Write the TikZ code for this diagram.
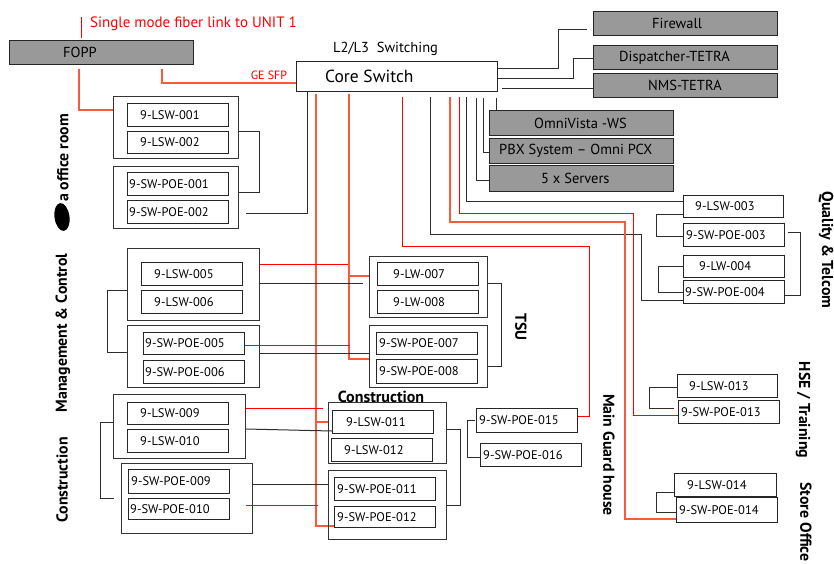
\documentclass[tikz,border=0pt]{standalone}
\usepackage{fontspec}
\setmainfont{PT Sans}
\usetikzlibrary{backgrounds}
\definecolor{boxgray}{RGB}{153,153,153}
\definecolor{sal}{RGB}{250,90,60}
\definecolor{lnk}{RGB}{45,45,45}
\tikzset{
 gbox/.style={draw=black!85, line width=1.2pt, fill=boxgray, inner sep=0pt},
 wbox/.style={draw=black!85, line width=1pt, fill=white, inner sep=0pt},
 grp/.style={draw=black!80, line width=1.1pt, inner sep=0pt},
 lbl/.style={inner sep=0pt, font=\fontsize{12.5}{14}\selectfont},
 glbl/.style={inner sep=0pt, font=\fontsize{14.5}{16}\selectfont},
 blk/.style={draw=lnk, line width=1pt},
 rd/.style={draw=red, line width=1pt},
 sl/.style={draw=sal, line width=1.1pt},
 rot/.style={inner sep=0pt, font=\fontsize{15.8}{18}\selectfont\bfseries},
}
\newcommand{\bx}[9]{%
 \node[#1, anchor=north west, minimum width={#5pt-#3pt}, minimum height={#6pt-#4pt}] (#2) at (#3,#4) {};
 \node[#9, anchor=west] (#2-t) at ([xshift=#7pt]#2.west) {#8};
}
\newcommand{\gp}[5]{%
 \node[grp, anchor=north west, minimum width={#4pt-#2pt}, minimum height={#5pt-#3pt}] (#1) at (#2,#3) {};
}
\begin{document}
\begin{tikzpicture}[x=1pt,y=-1pt]
\useasboundingbox (0,0) rectangle (834,563);

% gray / core boxes
\bx{gbox}{fopp}{9}{40}{193}{64}{54}{FOPP}{glbl}
\bx{gbox}{fw}{593}{11}{777}{35}{59}{Firewall}{glbl}
\bx{gbox}{disp}{593}{45}{777}{69}{26}{Dispatcher-TETRA}{glbl}
\bx{gbox}{nms}{593}{73}{777}{97}{55}{NMS-TETRA}{glbl}
\bx{gbox}{omni}{489}{110}{673}{135}{45}{OmniVista -WS}{glbl}
\bx{gbox}{pbx}{489}{138}{673}{163}{10}{PBX System – Omni PCX}{glbl}
\bx{gbox}{srv}{489}{165}{673}{191}{52}{5 x Servers}{glbl}
\bx{wbox}{core}{296}{61}{497}{91}{29}{Core Switch}{inner sep=0pt, font=\fontsize{17.5}{19}\selectfont}

% group boxes
\gp{g1}{113}{96}{238}{158}
\gp{g2}{113}{166}{238}{228}
\gp{g5}{127}{248}{259}{320}
\gp{g6}{127}{325}{259}{387}
\gp{g7}{369}{256}{487}{317}
\gp{g8}{369}{325}{487}{387}
\gp{g9}{113}{394}{245}{458}
\gp{g10}{121}{463}{252}{533}
\gp{g11}{328}{402}{446}{463}
\gp{g12}{328}{470}{446}{539}

% small white boxes
\bx{wbox}{lsw001}{127}{103}{228}{126}{13}{9-LSW-001}{lbl}
\bx{wbox}{lsw002}{127}{131}{228}{153}{13}{9-LSW-002}{lbl}
\bx{wbox}{poe001}{127}{172}{228}{195}{2}{9-SW-POE-001}{lbl}
\bx{wbox}{poe002}{127}{200}{228}{223}{2}{9-SW-POE-002}{lbl}
\bx{wbox}{lsw005}{141}{262}{242}{285}{13}{9-LSW-005}{lbl}
\bx{wbox}{lsw006}{141}{290}{242}{313}{13}{9-LSW-006}{lbl}
\bx{wbox}{poe005}{143}{332}{244}{354}{2}{9-SW-POE-005}{lbl}
\bx{wbox}{poe006}{143}{360}{244}{383}{2}{9-SW-POE-006}{lbl}
\bx{wbox}{lw007}{377}{262}{478}{285}{16}{9-LW-007}{lbl}
\bx{wbox}{lw008}{377}{290}{478}{313}{16}{9-LW-008}{lbl}
\bx{wbox}{poe007}{376}{332}{477}{354}{3}{9-SW-POE-007}{lbl}
\bx{wbox}{poe008}{376}{359}{477}{383}{3}{9-SW-POE-008}{lbl}
\bx{wbox}{lsw009}{127}{402}{228}{424}{13}{9-LSW-009}{lbl}
\bx{wbox}{lsw010}{127}{429}{228}{452}{13}{9-LSW-010}{lbl}
\bx{wbox}{poe009}{128}{469}{229}{493}{3}{9-SW-POE-009}{lbl}
\bx{wbox}{poe010}{128}{498}{229}{519}{2}{9-SW-POE-010}{lbl}
\bx{wbox}{lsw011}{332}{410}{433}{433}{14}{9-LSW-011}{lbl}
\bx{wbox}{lsw012}{331}{438}{432}{461}{13}{9-LSW-012}{lbl}
\bx{wbox}{poe011}{334}{477}{435}{500}{3}{9-SW-POE-011}{lbl}
\bx{wbox}{poe012}{334}{506}{435}{527}{3}{9-SW-POE-012}{lbl}
\bx{wbox}{poe015}{476}{408}{577}{432}{3}{9-SW-POE-015}{lbl}
\bx{wbox}{poe016}{480}{443}{581}{466}{3}{9-SW-POE-016}{lbl}
\bx{wbox}{lsw003}{683}{195}{783}{217}{12}{9-LSW-003}{lbl}
\bx{wbox}{poe003}{683}{223}{784}{246}{3}{9-SW-POE-003}{lbl}
\bx{wbox}{lw004}{683}{255}{784}{277}{16}{9-LW-004}{lbl}
\bx{wbox}{poe004}{683}{280}{784}{303}{2}{9-SW-POE-004}{lbl}
\bx{wbox}{lsw013}{677}{374}{777}{397}{12}{9-LSW-013}{lbl}
\bx{wbox}{poe013}{678}{400}{779}{423}{3}{9-SW-POE-013}{lbl}
\bx{wbox}{lsw014}{674}{473}{776}{496}{13}{9-LSW-014}{lbl}
\bx{wbox}{poe014}{676}{497}{777}{522}{3}{9-SW-POE-014}{lbl}

% ---------- connectors ----------
\begin{pgfonlayer}{background}
% top fiber link
\draw[rd, shorten <=2pt] (fopp.north -| 81,0) -- ++(0,-23);
% FOPP -> core (GE SFP)
\draw[sl, shorten <=4pt] (fopp.south -| 162,0) |- (core.west |- 0,83);
% FOPP -> group 1
\draw[sl, shorten <=4pt] (fopp.south -| 79,0) |- (g1.west |- 0,110);

% core -> right gray boxes
\draw[blk, shorten >=6pt] (core.east |- 0,68) -| (558,29) -- (fw.west |- 0,29);
\draw[blk] (core.east |- 0,78) -| (573,58) -- (disp.west |- 0,58);
\draw[blk, shorten <=4pt] (core.east |- 0,88) -- (nms.west |- 0,88);
\draw[blk, shorten <=6pt] (core.south -| 496,0) -- (omni.north -| 496,0);
\draw[blk, shorten <=6pt] (core.south -| 483,0) |- (pbx.west |- 0,152);
\draw[blk, shorten <=6pt] (core.south -| 476,0) |- (srv.west |- 0,180);

% core -> left / down
\draw[blk, shorten >=7pt] (core.south -| 307,0) |- (g2.east |- 0,213);
\draw[sl, shorten <=2pt] (core.south -| 316,0) |- (poe012.west |- 0,526);
\draw[sl, shorten <=2pt] (core.south -| 349,0) |- (g8.west |- 0,359);
\draw[sl] (g7.west |- 0,276) -- ++(-20,0);
\draw[sl] (g11.west |- 0,422) -- ++(-12,0);
\draw[rd, shorten <=5pt] (core.south -| 402,0) |- (589,246) |- (poe015.east |- 0,416);
\draw[blk, shorten <=5pt] (core.south -| 430,0) |- (641,234) |- (poe004.west |- 0,300);
\draw[sl, shorten <=5pt] (core.south -| 450,0) |- (625,222) |- (poe014.west |- 0,519);
\draw[rd, shorten <=5pt] (core.south -| 459,0) |- (633,213) |- (poe013.west |- 0,415);
\draw[blk, shorten <=5pt] (core.south -| 466,0) |- (lsw003.west |- 0,201);

% group 1/2 bracket
\draw[blk] (g1.east |- 0,131) -| (259,192) -- (g2.east |- 0,192);
% management & control
\draw[blk] (g5.west |- 0,290) -| (107,352) -- (g6.west |- 0,352);
\draw[rd] (g5.east |- 0,264) -- ++(88,0);
\draw[blk, shorten >=6pt] (g5.east |- 0,283) -- (g7.west |- 0,283);
\draw[rd] (poe005.east |- 0,345) -- ++(105,0);
\draw[blk] (g6.east |- 0,353) -- (g8.west |- 0,353);
% TSU bracket
\draw[blk] (g7.east |- 0,283) -| (501,366) -- (g8.east |- 0,366);
% construction left
\draw[blk, shorten >=7pt] (g9.west |- 0,422) -| (100,498) -- (g10.west |- 0,498);
\draw[rd] (g9.east |- 0,408) -- ++(77,0);
\draw[blk] (g9.east |- 0,429) -- (lsw011.west |- 0,431);
\draw[blk] (g10.east |- 0,484) -- (g12.west |- 0,484);
\draw[rd] (g10.east |- 0,505) ++(-7,0) -- ++(72,0);
% construction right bracket
\draw[blk] (g11.east |- 0,429) -| (460,505) -- (g12.east |- 0,505);
% main guard
\draw[blk, shorten <=1pt] (poe015.west |- 0,420) -- ++(-9,0) |- (poe016.west |- 0,457);
% quality & telcom
\draw[blk] (lsw003.west |- 0,214) -| (656,236) -- (poe003.west |- 0,236);
\draw[blk] (lw004.west |- 0,266) -| (658,292) -- (poe004.west |- 0,292);
\draw[blk] (poe003.east |- 0,232) ++(3,0) -| (800,295) -- (poe004.east |- 0,295);
% HSE / store
\draw[blk, shorten >=4pt] (lsw013.west |- 0,387) -| (649,408) -- (poe013.west |- 0,408);
\draw[blk] (lsw014.west |- 0,492) -| (656,512) -- (poe014.west |- 0,512);
\end{pgfonlayer}

% ---------- free texts ----------
\node[anchor=west, inner sep=0pt, text=red, font=\fontsize{15}{17}\selectfont] (fiber) at (90,24) {Single mode fiber link to UNIT 1};
\node[inner sep=0pt, text=red, font=\fontsize{12}{14}\selectfont] (gesfp) at (269,75) {GE SFP};
\node[anchor=west, inner sep=0pt, font=\fontsize{14.5}{16}\selectfont] (l2l3) at (333,49) {L2/L3\ \ Switching};
\node[inner sep=0pt, font=\fontsize{16}{18}\selectfont\bfseries] (constr) at (381,397) {Construction};

\node[rot, rotate=90] (ladm) at (63,158) {a office room};
\fill[black, rotate around={8:(62,217)}] (62,217) ellipse [x radius=7.5pt, y radius=14pt];
\node[rot, rotate=90] (lmgmt) at (63,333) {Management \& Control};
\node[rot, rotate=90] (lcons) at (62,480) {Construction};
\node[rot, rotate=-90] (ltsu) at (521,327) {TSU};
\node[rot, rotate=-90] (lmain) at (609,455) {Main Guard house};
\node[rot, rotate=-90] (lqual) at (826,250) {Quality \& Telcom};
\node[rot, rotate=-90] (lhse) at (803,410) {HSE / Training};
\node[rot, rotate=-90] (lstore) at (806,522) {Store Office};
\end{tikzpicture}
\end{document}
